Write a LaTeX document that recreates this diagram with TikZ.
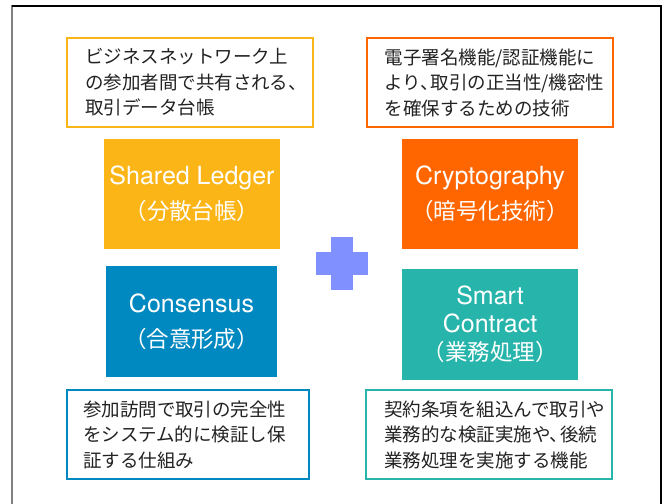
\documentclass[tikz,border=0pt]{standalone}
\usepackage{fontspec}
\usepackage{tikz}
\usetikzlibrary{positioning}
\setmainfont{TeX Gyre Heros}
\newfontfamily\jpfont{Noto Sans CJK JP}
\definecolor{LedgerYellow}{HTML}{FBB516}
\definecolor{CryptoOrange}{HTML}{FF6600}
\definecolor{ConsensusBlue}{HTML}{0088C0}
\definecolor{ContractTeal}{HTML}{27B4AB}
\definecolor{PlusBlue}{HTML}{8091FF}
\definecolor{Ink}{HTML}{222222}
\definecolor{FrameGray}{HTML}{808080}
\newcommand{\jpline}[1]{{\jpfont\fontsize{22.5}{35}\selectfont #1}}
\newcommand{\halfcomma}{、\kern-0.45em}

\begin{document}
\begin{tikzpicture}[x=1pt, y=-1pt,
    notebox/.style={rectangle, draw=#1, line width=2pt, fill=white, text=Ink,
        minimum width=246pt, minimum height=89pt, text width=210pt,
        inner sep=0pt, align=left, font=\jpfont\fontsize{18.5}{25.5}\selectfont},
    termbox/.style={rectangle, fill=#1, text=white, inner sep=0pt,
        minimum width=176pt, minimum height=110pt, align=center,
        font=\fontsize{25}{35}\selectfont}]
    \useasboundingbox (0,0) rectangle (665,504);

    % slide frame
    \draw[FrameGray, line width=2pt] (12,5) -- (12,504);
    \draw[black, line width=1.8pt] (12,6) -- (661,6) -- (661,504);

    % four building blocks
    \node[termbox=LedgerYellow] (ledger) at (192,194)
        {Shared Ledger\\ \jpline{（分散台帳）}};
    \node[termbox=CryptoOrange] (crypto) at (490,194)
        {Cryptography\\ \jpline{（暗号化技術）}};
    \node[termbox=ConsensusBlue, minimum width=171pt, minimum height=111pt] (consensus) at (191.5,321.5)
        {Consensus\\ \jpline{（合意形成）}};
    \node[termbox=ContractTeal, minimum height=111pt,
          font=\fontsize{25}{28}\selectfont] (contract) at (490,324.5)
        {Smart\\Contract\\ \jpline{（業務処理）}};

    % explanations
    \node[notebox=LedgerYellow] (ledgerNote) at (190,82.5)
        {ビジネスネットワーク上\\の参加者間で共有される、\\取引データ台帳};
    \node[notebox=CryptoOrange] (cryptoNote) at (489.5,82.5)
        {電子署名機能/認証機能に\\より\halfcomma 取引の正当性/機密性\\を確保するための技術};
    \node[notebox=ConsensusBlue, minimum width=242pt] (consensusNote) at (188,434.5)
        {参加訪問で取引の完全性\\をシステム的に検証し保\\証する仕組み};
    \node[notebox=ContractTeal] (contractNote) at (489,434.5)
        {契約条項を組込んで取引や\\業務的な検証実施や\halfcomma 後続\\業務処理を実施する機能};

    % plus sign between the blocks
    \fill[PlusBlue] (316,252) rectangle (368,275);
    \fill[PlusBlue] (331,237) rectangle (353,290);
\end{tikzpicture}
\end{document}
